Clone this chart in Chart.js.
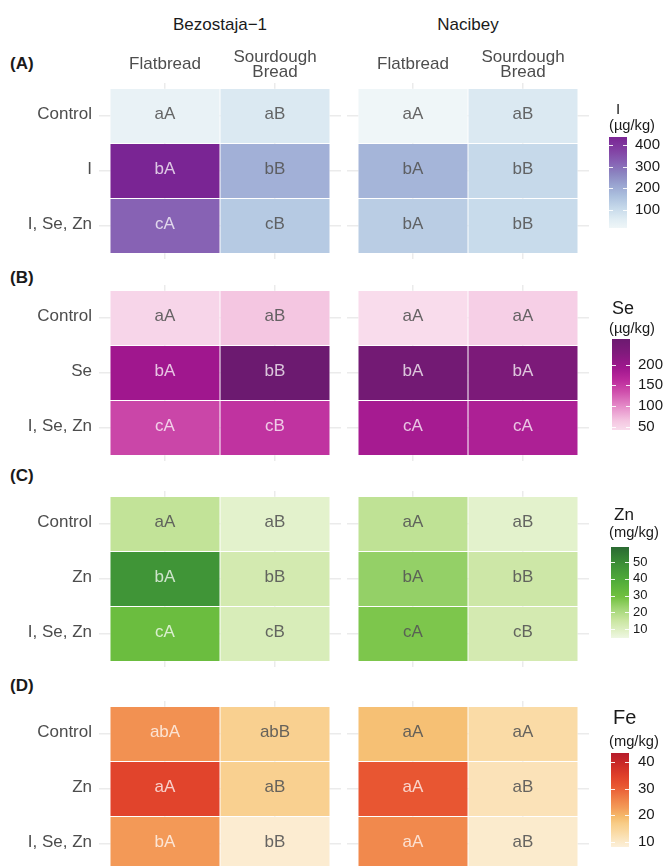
<!DOCTYPE html>
<html>
<head>
<meta charset="utf-8">
<script src="https://cdn.jsdelivr.net/npm/chart.js@4.4.1/dist/chart.umd.min.js"></script>
<style>
  html, body { margin: 0; padding: 0; background: #ffffff; }
  body { position: relative; width: 666px; height: 866px; overflow: hidden;
         font-family: "Liberation Sans", Arial, Helvetica, sans-serif; }
  canvas { position: absolute; }
  .t { position: absolute; white-space: nowrap; line-height: 1; color: #1a1a1a; }
</style>
</head>
<body>
<script>
// ---------- data ----------
const facetNames = ['Bezostaja\u22121', 'Nacibey'];
const breadTypes = ['Flatbread', ['Sourdough', 'Bread']];
const panelTags = ['(A)', '(B)', '(C)', '(D)'];

// (A) iodine, µg/kg  — rows: treatment, columns: bread type
const iodineRows = ['Control', 'I', 'I, Se, Zn'];
const iodineBez = [[34, 67], [437, 193], [320, 143]];
const iodineNac = [[17, 67], [185, 110], [135, 105]];
const iodineBezLetters = [['aA', 'aB'], ['bA', 'bB'], ['cA', 'cB']];
const iodineNacLetters = [['aA', 'aB'], ['bA', 'bB'], ['bA', 'bB']];
const iodineRange = [17, 437];
const iodineTicks = [100, 200, 300, 400];

// (B) selenium, µg/kg
const seleniumRows = ['Control', 'Se', 'I, Se, Zn'];
const seleniumBez = [[49, 64], [192, 262], [141, 156]];
const seleniumNac = [[42, 55], [251, 236], [185, 178]];
const seleniumBezLetters = [['aA', 'aB'], ['bA', 'bB'], ['cA', 'cB']];
const seleniumNacLetters = [['aA', 'aA'], ['bA', 'bA'], ['cA', 'cA']];
const seleniumRange = [42, 262];
const seleniumTicks = [50, 100, 150, 200];

// (C) zinc, mg/kg
const zincRows = ['Control', 'Zn', 'I, Se, Zn'];
const zincBez = [[16.5, 8], [47, 12.6], [31, 11]];
const zincNac = [[17, 8], [24, 14], [27.5, 12.3]];
const zincBezLetters = [['aA', 'aB'], ['bA', 'bB'], ['cA', 'cB']];
const zincNacLetters = [['aA', 'aB'], ['bA', 'bB'], ['cA', 'cB']];
const zincRange = [4.6, 59];
const zincTicks = [10, 20, 30, 40, 50];

// (D) iron, mg/kg
const ironRows = ['Control', 'Zn', 'I, Se, Zn'];
const ironBez = [[24, 15.8], [34, 15.8], [23, 9]];
const ironNac = [[18.6, 13.3], [31, 11.5], [25, 9.4]];
const ironBezLetters = [['abA', 'abB'], ['aA', 'aB'], ['bA', 'bB']];
const ironNacLetters = [['aA', 'aA'], ['aA', 'aB'], ['aA', 'aB']];
const ironRange = [8, 43.4];
const ironTicks = [10, 20, 30, 40];

// ---------- colour ramps (position 0..1 along the value range) ----------
const iodineRamp = [[0, '#eff6f8'], [0.1, '#dfecf3'], [0.22, '#c6d9ea'], [0.35, '#acc0de'],
  [0.47, '#9aa5d1'], [0.6, '#8b84c0'], [0.72, '#8762b4'], [0.85, '#8242a4'], [1, '#7a2594']];
const seleniumRamp = [[0, '#f9dcec'], [0.1, '#f4c6e1'], [0.25, '#e68fca'], [0.42, '#cf4fac'],
  [0.55, '#bb2a9c'], [0.68, '#a0178e'], [0.85, '#801a7c'], [1, '#6c1a70']];
const zincRamp = [[0, '#eef7e2'], [0.08, '#e0f0c6'], [0.2, '#c8e59e'], [0.32, '#a2d676'],
  [0.45, '#72c140'], [0.62, '#52ad3a'], [0.8, '#3e9237'], [1, '#2a6a32']];
const ironRamp = [[0, '#fcf0da'], [0.06, '#fbe8c6'], [0.15, '#fadba6'], [0.25, '#f8cc87'],
  [0.32, '#f5bb6c'], [0.42, '#f39a58'], [0.5, '#f0844a'], [0.65, '#e85632'], [0.75, '#e0412b'],
  [0.88, '#cc2a27'], [1, '#b51c2b']];

const FONT = '"Liberation Sans", Arial, Helvetica, sans-serif';
const GRID = '#ebebeb';

function rgb(h) { return [1, 3, 5].map(i => parseInt(h.slice(i, i + 2), 16)); }
function rampColor(stops, t) {
  t = Math.max(0, Math.min(1, t));
  for (let i = 1; i < stops.length; i++) {
    if (t <= stops[i][0]) {
      const [t0, c0] = stops[i - 1], [t1, c1] = stops[i];
      const f = (t - t0) / (t1 - t0), a = rgb(c0), b = rgb(c1);
      return 'rgb(' + a.map((v, k) => Math.round(v + (b[k] - v) * f)).join(',') + ')';
    }
  }
  return stops[stops.length - 1][1];
}
function fillFor(v, range, stops) { return rampColor(stops, (v - range[0]) / (range[1] - range[0])); }

// ---------- page helpers ----------
function addText(str, left, top, size, o = {}) {
  const d = document.createElement('div');
  d.className = 't';
  d.textContent = str;
  d.style.left = left + 'px';
  d.style.top = top + 'px';
  d.style.fontSize = size + 'px';
  if (o.bold) d.style.fontWeight = 'bold';
  if (o.center) d.style.transform = 'translateX(-50%)';
  document.body.appendChild(d);
}
function makeCanvas(left, top, w, h) {
  const c = document.createElement('canvas');
  c.width = w; c.height = h;
  c.style.left = left + 'px'; c.style.top = top + 'px';
  c.style.width = w + 'px'; c.style.height = h + 'px';
  document.body.appendChild(c);
  return c;
}

// letters written in the middle of every tile
const cellText = {
  id: 'cellText',
  afterDatasetsDraw(chart) {
    const ds = chart.data.datasets[0];
    const meta = chart.getDatasetMeta(0);
    const ctx = chart.ctx;
    ctx.save();
    ctx.font = '17px ' + FONT;
    ctx.textAlign = 'center';
    ctx.textBaseline = 'middle';
    meta.data.forEach((el, i) => {
      const p = ds.data[i];
      const c = el.getCenterPoint();
      ctx.fillStyle = p.v > ds.lightAbove ? 'rgba(255,255,255,0.75)' : 'rgba(85,85,85,0.9)';
      ctx.fillText(p.t, c.x, c.y - 2);
    });
    ctx.restore();
  }
};

const AREA_H = 176;

function heatmap(cfg) {
  const { left, areaLeft, areaTop, areaW, axisH, values, letters, rows, range, stops, lightAbove, showRows, showCols } = cfg;
  const axisW = areaLeft - left;
  const canvas = makeCanvas(left, areaTop - axisH, axisW + areaW, axisH + AREA_H);
  const cells = [];
  values.forEach((row, r) => row.forEach((v, c) => {
    cells.push({ x: c, y: [r - 0.5, r + 0.5], v: v, t: letters[r][c] });
  }));
  const tickFont = { family: FONT, size: 17, lineHeight: 0.85 };
  new Chart(canvas, {
    type: 'bar',
    data: {
      datasets: [{
        data: cells,
        backgroundColor: cells.map(p => fillFor(p.v, range, stops)),
        borderColor: '#ffffff',
        borderWidth: 0.5,
        borderSkipped: false,
        inflateAmount: 0,
        grouped: false,
        barPercentage: 1,
        categoryPercentage: 1,
        lightAbove: lightAbove
      }]
    },
    options: {
      responsive: false,
      animation: false,
      events: [],
      layout: { padding: 0 },
      plugins: { legend: { display: false }, tooltip: { enabled: false } },
      scales: {
        x: {
          type: 'linear', position: 'top', min: -0.6, max: 1.6, bounds: 'data', offset: false,
          afterBuildTicks: s => { s.ticks = breadTypes.map((_, i) => ({ value: i })); },
          afterFit: s => { s.height = axisH; s.paddingLeft = 0; s.paddingRight = 0; },
          ticks: {
            display: showCols, autoSkip: false, maxRotation: 0, minRotation: 0,
            callback: (v, i) => breadTypes[i],
            font: tickFont, color: '#4d4d4d', padding: 11, crossAlign: 'center'
          },
          grid: { color: GRID, lineWidth: 1.5, drawTicks: false, offset: false },
          border: { display: false }
        },
        y: {
          type: 'linear', reverse: true, min: -0.6, max: 2.6, bounds: 'data', offset: false,
          afterBuildTicks: s => { s.ticks = rows.map((_, i) => ({ value: i })); },
          afterFit: s => { s.width = axisW; s.paddingTop = 0; s.paddingBottom = 0; },
          ticks: {
            display: showRows, autoSkip: false,
            callback: (v, i) => rows[i],
            font: { family: FONT, size: 17 }, color: '#4d4d4d', padding: 7, labelOffset: -2
          },
          grid: { color: GRID, lineWidth: 1.5, drawTicks: false, offset: false },
          border: { display: false }
        }
      }
    },
    plugins: [cellText]
  });
}

// short white tick marks on both edges of a colour bar
const barTicks = {
  id: 'barTicks',
  afterDatasetsDraw(chart) {
    const s = chart.scales.y, a = chart.chartArea, ctx = chart.ctx;
    ctx.save();
    ctx.strokeStyle = 'rgba(255,255,255,0.9)';
    ctx.lineWidth = 1;
    s.ticks.forEach(t => {
      const y = Math.round(s.getPixelForValue(t.value)) + 0.5;
      ctx.beginPath();
      ctx.moveTo(a.left, y); ctx.lineTo(a.left + 4, y);
      ctx.moveTo(a.right - 4, y); ctx.lineTo(a.right, y);
      ctx.stroke();
    });
    ctx.restore();
  }
};

function colourBar(cfg) {
  const { left, top, w, h, gap, labelSize, range, ticks, stops } = cfg;
  const labelW = 40;
  const canvas = makeCanvas(left, top - 10, w + labelW, h + 20);
  new Chart(canvas, {
    type: 'bar',
    data: {
      labels: [''],
      datasets: [{
        data: [[range[0], range[1]]],
        barPercentage: 1,
        categoryPercentage: 1,
        borderWidth: 0,
        inflateAmount: 0,
        backgroundColor: ctx => {
          const area = ctx.chart.chartArea;
          if (!area) return stops[0][1];
          const g = ctx.chart.ctx.createLinearGradient(0, area.bottom, 0, area.top);
          stops.forEach(s => g.addColorStop(s[0], s[1]));
          return g;
        }
      }]
    },
    options: {
      responsive: false,
      animation: false,
      events: [],
      layout: { padding: { top: 10, bottom: 10, left: 0, right: 0 } },
      plugins: { legend: { display: false }, tooltip: { enabled: false } },
      scales: {
        x: { display: false },
        y: {
          type: 'linear', position: 'right', min: range[0], max: range[1], bounds: 'data',
          afterBuildTicks: s => { s.ticks = ticks.map(v => ({ value: v })); },
          afterFit: s => { s.width = labelW; s.paddingTop = 0; s.paddingBottom = 0; },
          ticks: { autoSkip: false, font: { family: FONT, size: labelSize }, color: '#1a1a1a', padding: gap },
          grid: { display: false, drawTicks: false },
          border: { display: false }
        }
      }
    },
    plugins: [barTicks]
  });
}

// ---------- layout ----------
const panels = [
  { tag: panelTags[0], tagY: 63, areaTop: 83, axisH: 83, showCols: true, rows: iodineRows,
    bez: iodineBez, nac: iodineNac, bezL: iodineBezLetters, nacL: iodineNacLetters,
    range: iodineRange, ticks: iodineTicks, ramp: iodineRamp, lightAbove: 250,
    title: 'I', titleSize: 15, titleX: 616, titleY: 108, unit: '(\u00b5g/kg)', unitY: 125,
    bar: { left: 609, top: 137, w: 18, h: 91, gap: 8, labelSize: 15 } },
  { tag: panelTags[1], tagY: 277, areaTop: 285, axisH: 0, showCols: false, rows: seleniumRows,
    bez: seleniumBez, nac: seleniumNac, bezL: seleniumBezLetters, nacL: seleniumNacLetters,
    range: seleniumRange, ticks: seleniumTicks, ramp: seleniumRamp, lightAbove: 100,
    title: 'Se', titleSize: 18, titleX: 612, titleY: 308, unit: '(\u00b5g/kg)', unitY: 328,
    bar: { left: 612, top: 339, w: 18, h: 91, gap: 8, labelSize: 15 } },
  { tag: panelTags[2], tagY: 475, areaTop: 491, axisH: 0, showCols: false, rows: zincRows,
    bez: zincBez, nac: zincNac, bezL: zincBezLetters, nacL: zincNacLetters,
    range: zincRange, ticks: zincTicks, ramp: zincRamp, lightAbove: 29,
    title: 'Zn', titleSize: 17, titleX: 614, titleY: 514, unit: '(mg/kg)', unitY: 532,
    bar: { left: 611, top: 547, w: 18, h: 91, gap: 4, labelSize: 13 } },
  { tag: panelTags[3], tagY: 685, areaTop: 701, axisH: 0, showCols: false, rows: ironRows,
    bez: ironBez, nac: ironNac, bezL: ironBezLetters, nacL: ironNacLetters,
    range: ironRange, ticks: ironTicks, ramp: ironRamp, lightAbove: 20,
    title: 'Fe', titleSize: 20, titleX: 613, titleY: 717, unit: '(mg/kg)', unitY: 741,
    bar: { left: 611, top: 753, w: 18, h: 94, gap: 9, labelSize: 15 } }
];

addText(facetNames[0], 220, 16, 17, { center: true });
addText(facetNames[1], 468, 16, 17, { center: true });

panels.forEach(p => {
  addText(p.tag, 10, p.tagY - 8.5, 17, { bold: true });
  heatmap({ left: 0, areaLeft: 99, areaTop: p.areaTop, areaW: 242, axisH: p.axisH,
    values: p.bez, letters: p.bezL, rows: p.rows, range: p.range, stops: p.ramp,
    lightAbove: p.lightAbove, showRows: true, showCols: p.showCols });
  heatmap({ left: 307, areaLeft: 347, areaTop: p.areaTop, areaW: 242, axisH: p.axisH,
    values: p.nac, letters: p.nacL, rows: p.rows, range: p.range, stops: p.ramp,
    lightAbove: p.lightAbove, showRows: false, showCols: p.showCols });
  addText(p.title, p.titleX, p.titleY - p.titleSize * 0.49, p.titleSize);
  addText(p.unit, 609, p.unitY - 7.2, 14.7);
  colourBar(Object.assign({ range: p.range, ticks: p.ticks, stops: p.ramp }, p.bar));
});
</script>
</body>
</html>
